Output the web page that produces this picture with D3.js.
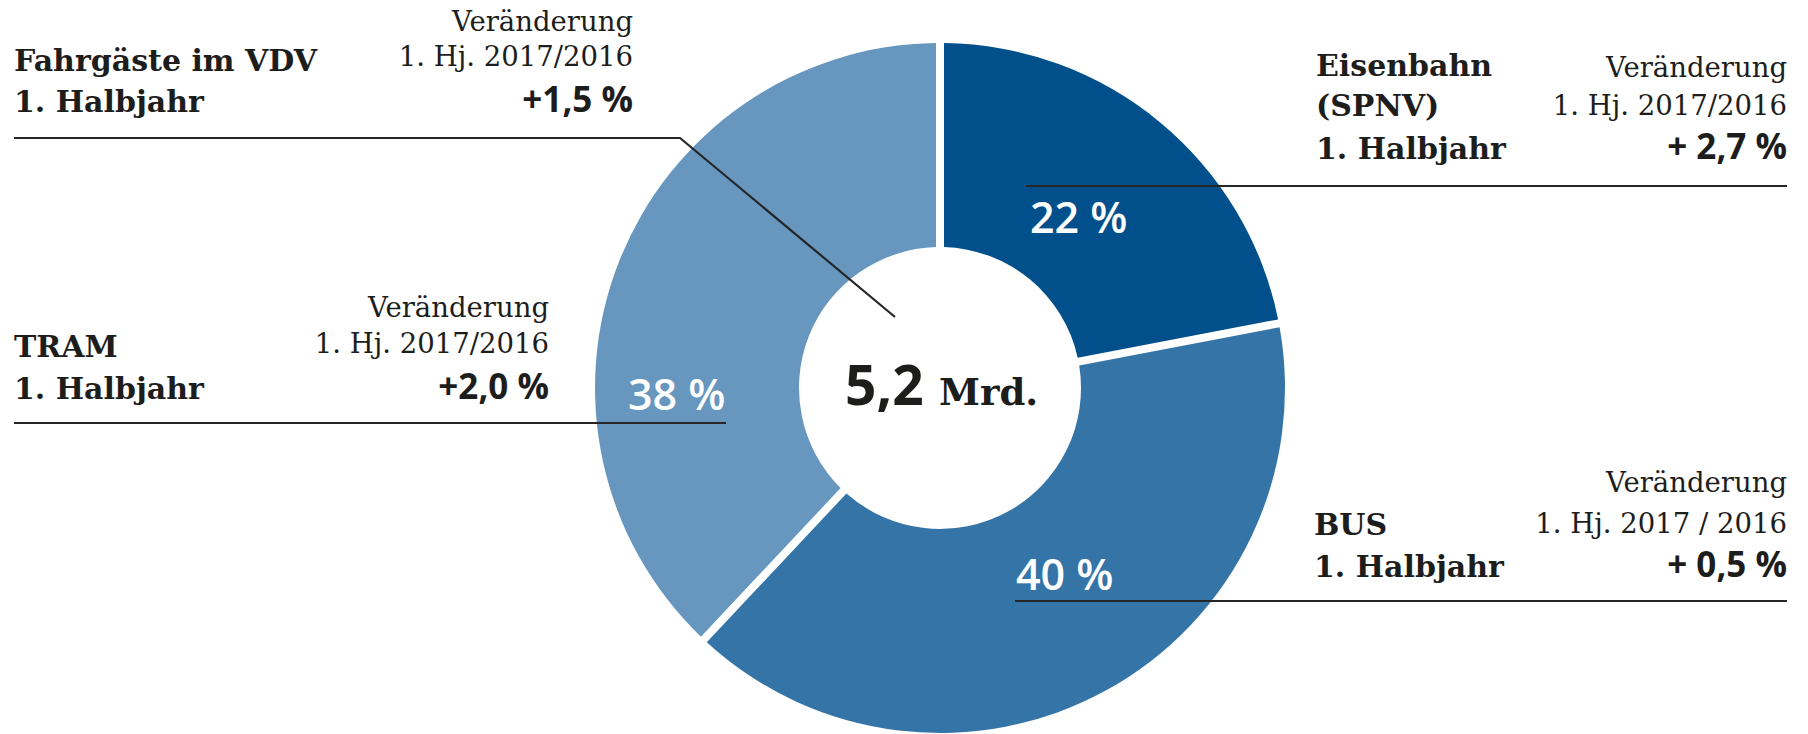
<!DOCTYPE html>
<html><head><meta charset="utf-8">
<script src="https://cdn.jsdelivr.net/npm/d3@7"></script>
<style>
html,body{margin:0;padding:0;background:#fff;}
svg{display:block;}
.slab{font-family:"DejaVu Serif",serif;}
.sans{font-family:"Open Sans","Noto Sans",sans-serif;}
</style></head>
<body>
<svg id="chart" width="1808" height="734"></svg>
<script>
// ---- data ----
const segments = ["Eisenbahn (SPNV)", "BUS", "TRAM"];
const shares = [22, 40, 38];
const shareLabels = ["22 %", "40 %", "38 %"];
const segmentTitles = [["Eisenbahn", "(SPNV)", "1. Halbjahr"], ["BUS", "1. Halbjahr"], ["TRAM", "1. Halbjahr"]];
const changeHeader = "Veränderung";
const periodLabels = ["1. Hj. 2017/2016", "1. Hj. 2017 / 2016", "1. Hj. 2017/2016"];
const changeLabels = ["+ 2,7 %", "+ 0,5 %", "+2,0 %"];
const totalTitle = ["Fahrgäste im VDV", "1. Halbjahr"];
const totalPeriod = "1. Hj. 2017/2016";
const totalChange = "+1,5 %";
const totalValue = "5,2";
const totalUnit = "Mrd.";
const colors = ["#02508b", "#3574a6", "#6797bf"];

// ---- layout ----
const svg = d3.select("#chart");
const cx = 940, cy = 388, R = 345, r0 = 141, gap = 8;
const ink = "#1d1d1b";

const pie = d3.pie().sort(null).value(d => d)(shares);
const arc = d3.arc().innerRadius(r0).outerRadius(R).padRadius(R).padAngle(gap / R);

const g = svg.append("g").attr("transform", `translate(${cx},${cy})`);
g.selectAll("path.slice").data(pie).join("path")
  .attr("class", "slice")
  .attr("d", arc)
  .attr("fill", (d, i) => colors[i]);

// leader rules
const rules = [
  [[1026, 186], [1787, 186]],
  [[1015, 601], [1787, 601]],
  [[14, 423], [726, 423]],
  [[14, 138], [680, 138], [895, 317]]
];
const line = d3.line();
svg.selectAll("path.rule").data(rules).join("path")
  .attr("class", "rule")
  .attr("d", line)
  .attr("fill", "none")
  .attr("stroke", "#262626")
  .attr("stroke-width", 2.2);

// share labels inside the ring
const shareLabelPos = [[1030, 233], [1016, 590], [628, 410]];
svg.selectAll("text.share").data(shareLabels).join("text")
  .attr("class", "share sans")
  .attr("x", (d, i) => shareLabelPos[i][0])
  .attr("y", (d, i) => shareLabelPos[i][1])
  .attr("fill", "#fff")
  .attr("font-size", 43)
  .attr("font-weight", 600)
  .text(d => d);

// blocks
const blocks = [
  {left: 1316, right: 1787, titleY: [76, 116, 159], rightY: [77, 115, 159]},
  {left: 1314, right: 1787, titleY: [535, 577], rightY: [492, 533, 577]},
  {left: 14, right: 549, titleY: [357, 399], rightY: [317, 353, 399]}
];

function drawBlock(b, titles, period, change) {
  titles.forEach((t, k) => {
    svg.append("text").attr("class", "slab")
      .attr("x", b.left).attr("y", b.titleY[k])
      .attr("font-size", 30).attr("font-weight", 700)
      .attr("fill", ink).text(t);
  });
  svg.append("text").attr("class", "slab")
    .attr("x", b.right).attr("y", b.rightY[0]).attr("text-anchor", "end")
    .attr("font-size", 27.5).attr("fill", ink).text(changeHeader);
  svg.append("text").attr("class", "slab")
    .attr("x", b.right).attr("y", b.rightY[1]).attr("text-anchor", "end")
    .attr("font-size", 27.5).attr("fill", ink).text(period);
  svg.append("text").attr("class", "sans")
    .attr("x", b.right).attr("y", b.rightY[2]).attr("text-anchor", "end")
    .attr("font-size", 35).attr("font-weight", 700)
    .attr("fill", ink).text(change);
}
segments.forEach((s, i) => drawBlock(blocks[i], segmentTitles[i], periodLabels[i], changeLabels[i]));
drawBlock({left: 14, right: 633, titleY: [71, 112], rightY: [31, 66, 112]}, totalTitle, totalPeriod, totalChange);

// center total
svg.append("text").attr("class", "sans")
  .attr("x", 845).attr("y", 405)
  .attr("font-size", 55).attr("font-weight", 700).attr("fill", ink)
  .text(totalValue);
svg.append("text").attr("class", "slab")
  .attr("x", 939).attr("y", 405)
  .attr("font-size", 37).attr("font-weight", 700).attr("fill", ink)
  .text(totalUnit);
</script>
</body></html>
